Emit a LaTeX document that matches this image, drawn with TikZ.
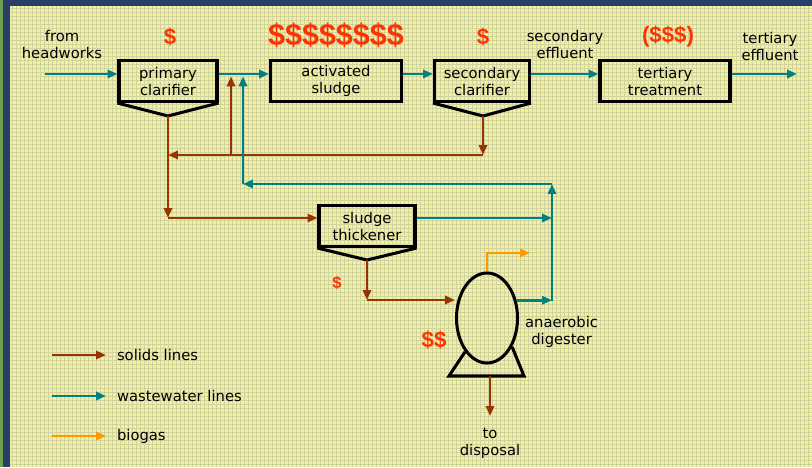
\documentclass[tikz,border=0pt]{standalone}
\usepackage{fontspec}
\setmainfont{DejaVu Sans}
\newfontfamily\dollarfont{Liberation Sans}
\usetikzlibrary{arrows.meta, shapes.geometric}
\definecolor{solid}{RGB}{153,51,0}
\definecolor{water}{RGB}{0,128,128}
\definecolor{gas}{RGB}{255,153,0}
\definecolor{cost}{RGB}{255,51,0}
\definecolor{paper}{RGB}{244,242,150}
\definecolor{weave}{RGB}{208,210,160}
\definecolor{frame}{RGB}{38,62,104}
\definecolor{edge}{RGB}{110,160,80}

\begin{document}
\begin{tikzpicture}[x=0.03cm, y=-0.03cm,
  every node/.append style={font=\fontsize{12.6}{14.5}\selectfont},
  box/.style={draw, line width=2.6pt, align=center, inner sep=0pt, minimum height=1.23cm},
  vee/.style={line width=2.6pt, line join=miter},
  arr/.style={-{Triangle[length=8.5pt,width=7pt]}, line width=2.2pt},
  sol/.style={arr, color=solid},
  ww/.style={arr, color=water},
  bio/.style={arr, color=gas},
  usd/.style={text=cost, font=\dollarfont\bfseries\fontsize{#1}{#1}\selectfont},
  lbl/.style={align=center},
]
\useasboundingbox (0,0) rectangle (812,467);
% backdrop
\fill[frame] (0,0) rectangle (812,467);
\fill[edge] (0,0) rectangle (3,467);
\fill[paper] (10,6) rectangle (812,467);
\draw[weave, line width=0.4pt] (10,6) grid[step=0.12cm] (812,467);

% Process units
\node[box, minimum width=2.94cm] (pc) at (168,81) {primary\\clarifier};
\node[box, minimum width=3.93cm] (as) at (336,81) {activated\\sludge};
\node[box, minimum width=2.85cm] (sc) at (482,81) {secondary\\clarifier};
\node[box, minimum width=3.9cm]  (tt) at (665,81) {tertiary\\treatment};
\node[box, minimum width=2.88cm] (th) at (367,226) {sludge\\thickener};
\node[draw, ellipse, line width=2.6pt, inner sep=0pt,
      minimum width=1.83cm, minimum height=2.7cm] (dig) at (487,318) {};
\coordinate (pcv) at (168,116);
\coordinate (scv) at (483,116);
\coordinate (thv) at (367,260);
\coordinate (dbl) at (449,376);
\coordinate (dbr) at (524,376);
\draw[vee] (pc.south west) -- (pcv) -- (pc.south east);
\draw[vee] (sc.south west) -- (scv) -- (sc.south east);
\draw[vee] (th.south west) -- (thv) -- (th.south east);
\draw[vee] (dig.237) -- (dbl) -- (dbr) -- (dig.311);

% Labels and costs
\node[lbl] (hwl) at (62,44) {from\\headworks};
\node[lbl] (sel) at (565,44) {secondary\\effluent};
\node[lbl] (tel) at (770,46) {tertiary\\effluent};
\node[lbl, anchor=west] (adl) at (521,332) {anaerobic\\digester};
\node[lbl] (tdl) at (490,443) {to\\disposal};
\node[usd=19] (c1) at (170,37) {\$};
\node[usd=26] (c2) at (336,35) {\$\$\$\$\$\$\$\$};
\node[usd=19] (c3) at (483,37) {\$};
\node[usd=19] (c4) at (668,37) {(\$\$\$)};
\node[usd=14] (c5) at (337,283) {\$};
\node[usd=19] (c6) at (434,340) {\$\$};

% Main line
\coordinate (hw) at (45,74);
\coordinate (te) at (797,74);
\draw[ww] (hw) -- (hw -| pc.west);
\draw[ww] (pc.east |- hw) -- (as.west |- hw);
\draw[ww] (as.east |- hw) -- (sc.west |- hw);
\draw[ww] (sc.east |- hw) -- (tt.west |- hw);
\draw[ww] (tt.east |- hw) -- (te);

% Solids
\coordinate (rs) at (231,155);
\coordinate (tk) at (168,218);
\coordinate (dg) at (367,300);
\coordinate (dp) at (490,416);
\draw[sol] (scv) -- (scv |- rs);
\draw[sol] (scv |- rs) -- (pcv |- rs);
\draw[sol, shorten >=2pt] (rs) -- (rs |- hw);
\draw[sol] (pcv) -- (tk);
\draw[sol] (tk) -- (tk -| th.west);
\draw[sol] (thv) -- (dg);
\draw[sol] (dg) -- (dg -| dig.west);
\draw[sol] (dp |- dbl) -- (dp);

% Wastewater return
\coordinate (mg) at (552,301);
\coordinate (mt) at (552,184);
\coordinate (rw) at (243,184);
\draw[ww] (dig.31) -- (dig.31 -| mg);
\draw[ww] (th.east |- tk) -- (tk -| mg);
\draw[ww] (mg) -- (mt);
\draw[ww] (mt) -- (rw);
\draw[ww, shorten >=2pt] (rw) -- (rw |- hw);

% Biogas
\coordinate (bg) at (530,253);
\draw[bio] (dig.north) |- (bg);

% Legend
\coordinate (l1) at (52,355);
\coordinate (l2) at (52,396);
\coordinate (l3) at (52,436);
\draw[sol] (l1) -- ++(54,0) node[right=5pt, text=black] (k1) {solids lines};
\draw[ww]  (l2) -- ++(54,0) node[right=5pt, text=black] (k2) {wastewater lines};
\draw[bio] (l3) -- ++(54,0) node[right=5pt, text=black] (k3) {biogas};
\end{tikzpicture}
\end{document}
